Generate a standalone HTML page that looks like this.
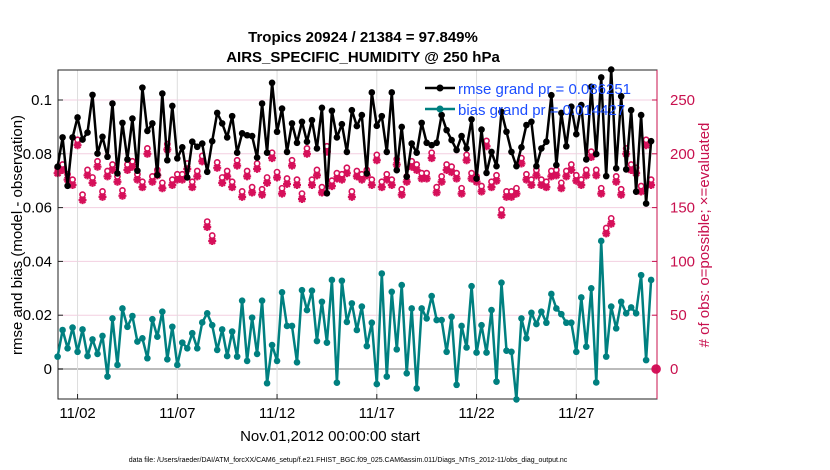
<!DOCTYPE html>
<html><head><meta charset="utf-8">
<style>
body{margin:0;background:#fff;}
svg{display:block;font-family:"Liberation Sans",sans-serif;}
</style></head>
<body>
<svg id="chart" width="830" height="470" viewBox="0 0 830 470" xmlns="http://www.w3.org/2000/svg">
<g id="grid"></g>
<g id="series"></g>
<rect x="58" y="70" width="599" height="329" fill="none" stroke="#222" stroke-width="1"/>
<line x1="657" y1="70" x2="657" y2="399" stroke="#c8104e" stroke-width="1"/>
<g id="axes"></g>
<text x="363" y="42" text-anchor="middle" font-size="15" font-weight="bold">Tropics 20924 / 21384 = 97.849%</text>
<text x="363" y="62" text-anchor="middle" font-size="15" font-weight="bold">AIRS_SPECIFIC_HUMIDITY @ 250 hPa</text>
<text transform="translate(22,235) rotate(-90)" text-anchor="middle" font-size="15">rmse and bias (model - observation)</text>
<text transform="translate(709,235) rotate(-90)" text-anchor="middle" font-size="15" fill="#c8104e"># of obs: o=possible; ×=evaluated</text>
<text x="330" y="441" text-anchor="middle" font-size="15">Nov.01,2012 00:00:00 start</text>
<text x="348" y="462" text-anchor="middle" font-size="7">data file: /Users/raeder/DAI/ATM_forcXX/CAM6_setup/f.e21.FHIST_BGC.f09_025.CAM6assim.011/Diags_NTrS_2012-11/obs_diag_output.nc</text>
<g id="series2"></g>
<g>
<line x1="425" y1="88" x2="455" y2="88" stroke="#000" stroke-width="2.5"/>
<circle cx="440" cy="88" r="3.5" fill="#000"/>
<text x="458" y="94" font-size="15" fill="#1a4cff">rmse grand pr = 0.086251</text>
<line x1="425" y1="109" x2="455" y2="109" stroke="#008080" stroke-width="2.5"/>
<circle cx="440" cy="109" r="3.5" fill="#008080"/>
<text x="458" y="115" font-size="15" fill="#1a4cff">bias grand pr = 0.014427</text>
</g>
</svg>
<script>
const rmse=[0.0752,0.0861,0.0681,0.0861,0.0935,0.0853,0.0879,0.1019,0.0801,0.0863,0.0789,0.0987,0.0727,0.0915,0.0779,0.0931,0.0737,0.1046,0.0885,0.0913,0.0721,0.1024,0.0776,0.0978,0.0783,0.0824,0.0712,0.0845,0.0826,0.0838,0.0733,
0.0847,0.0952,0.0913,0.0861,0.0940,0.0804,0.0876,0.0869,0.0866,0.0786,0.0987,0.0804,0.1064,0.0882,0.0968,0.0807,0.0913,0.0841,0.0919,0.0845,0.0925,0.0820,0.0971,0.0653,0.0960,0.0861,0.0910,0.0807,0.0962,0.0903,
0.0944,0.0727,0.1028,0.0904,0.0940,0.0807,0.1028,0.0739,0.0900,0.0715,0.0838,0.0804,0.0915,0.0841,0.0832,0.0841,0.0944,0.0888,0.0851,0.0814,0.0866,0.0820,0.0928,0.0708,0.0890,0.0729,0.0807,0.0754,0.0956,0.0882,
0.0807,0.0754,0.0824,0.0907,0.0919,0.0754,0.0820,0.0845,0.1018,0.0758,0.0952,0.0828,0.0975,0.0873,0.0981,0.0779,0.1049,0.0799,0.1084,0.0717,0.1113,0.0746,0.1014,0.0742,0.0962,0.0659,0.0944,0.0615,0.0847,null];
const bias=[0.0046,0.0145,0.0077,0.0154,0.0064,0.0147,0.0048,0.0110,0.0056,0.0123,-0.0028,0.0188,0.0015,0.0225,0.0157,0.0197,0.0102,0.0114,0.0040,0.0185,0.0120,0.0213,0.0036,0.0157,0.0015,0.0098,0.0077,0.0133,0.0077,0.0173,0.0207,
0.0163,0.0071,0.0147,0.0048,0.0139,0.0046,0.0254,0.0030,0.0191,0.0056,0.0254,-0.0053,0.0089,0.0030,0.0285,0.0160,0.0160,0.0025,0.0293,0.0219,0.0291,0.0104,0.0250,0.0098,0.0331,-0.0051,0.0328,0.0175,0.0244,0.0145,
0.0232,0.0085,0.0172,-0.0056,0.0355,-0.0028,0.0287,0.0073,0.0312,-0.0016,0.0225,-0.0072,0.0225,0.0188,0.0271,0.0182,0.0182,0.0064,0.0194,-0.0059,0.0160,0.0080,0.0308,0.0061,0.0163,0.0061,0.0219,-0.0047,0.0321,0.0068,
0.0064,-0.0113,0.0188,0.0114,0.0209,0.0167,0.0213,0.0172,0.0279,0.0225,0.0204,0.0172,0.0172,0.0064,0.0266,0.0083,0.0300,-0.0050,0.0476,0.0046,0.0232,0.0151,0.0250,0.0207,0.0229,0.0207,0.0349,0.0033,0.0331,null];
const evaluated=[182,185,176,171,208,157,180,173,188,160,179,185,174,161,185,188,176,169,200,174,180,168,204,171,176,176,186,169,179,193,132,
119,187,173,179,169,189,160,179,164,186,162,173,196,178,163,172,189,171,158,200,171,180,164,202,170,177,176,182,160,179,
176,180,171,194,169,176,171,190,162,174,188,185,177,177,196,164,174,185,183,177,163,194,177,174,165,207,169,175,143,160,
160,163,191,176,171,180,171,169,179,180,168,179,185,175,171,180,197,180,163,126,135,174,162,200,185,182,165,208,171,0];
const possible=evaluated.map(v=>v===0?0:v+5);
const xTickLabels=["11/02","11/07","11/12","11/17","11/22","11/27"];
const xTickDays=[1,6,11,16,21,26];
const yTicks=[0,0.02,0.04,0.06,0.08,0.1];
const yTickLabels=["0","0.02","0.04","0.06","0.08","0.1"];
const rTicks=[0,50,100,150,200,250];

const NS="http://www.w3.org/2000/svg";
const X0=57.6, DAY=19.95, L=58, R=657, T=70, B=399;
const xDay=d=>X0+d*DAY;
const xIdx=i=>xDay(i*0.25);
const yL=v=>369-v*2690;
const yR=c=>369-c*1.076;
function mk(tag,attrs,parent){const e=document.createElementNS(NS,tag);for(const k in attrs)e.setAttribute(k,attrs[k]);parent.appendChild(e);return e;}
const grid=document.getElementById('grid'),axes=document.getElementById('axes'),ser=document.getElementById('series'),ser2=document.getElementById('series2');

yTicks.forEach((v,i)=>{
  const y=yL(v);
  const g=mk('line',{x1:L,x2:R,y1:y,y2:y,stroke:v===0?'#bbb':'#f3cfe0','stroke-width':v===0?2:1},grid);
  
  
  const t=mk('line',{x1:L,x2:L+5,y1:y,y2:y,stroke:'#222'},axes);
  
  
  const lb=mk('text',{x:L-6,y:y+5,'text-anchor':'end','font-size':15},axes);
  lb.textContent=yTickLabels[i];
  
  
});
rTicks.forEach(c=>{
  const y=yR(c);
  const t=mk('line',{x1:R-5,x2:R,y1:y,y2:y,stroke:'#c8104e'},axes);
  
  
  const lb=mk('text',{x:R+13,y:y+5,'font-size':15,fill:'#c8104e'},axes);
  lb.textContent=String(c);
  
  
});
xTickDays.forEach((d,i)=>{
  const x=xDay(d);
  const g=mk('line',{x1:x,x2:x,y1:T,y2:B,stroke:'#ddd'},grid);
  
  
  const t=mk('line',{x1:x,x2:x,y1:B-5,y2:B,stroke:'#222'},axes);
  
  
  const lb=mk('text',{x:x,y:B+19,'text-anchor':'middle','font-size':15},axes);
  lb.textContent=xTickLabels[i];
  
  
});

// obs counts
const mag='#d6105a';
evaluated.forEach((c,i)=>{
  const x=xIdx(i),y=yR(c),s=4;
  const d=`M${x-s},${y}L${x+s},${y}M${x},${y-s}L${x},${y+s}M${x-s*0.72},${y-s*0.72}L${x+s*0.72},${y+s*0.72}M${x-s*0.72},${y+s*0.72}L${x+s*0.72},${y-s*0.72}`;
  const a=mk('path',{d:d,stroke:mag,'stroke-width':2.2,fill:'none'},ser);
  
  
});
possible.forEach((c,i)=>{
  const x=xIdx(i),y=yR(c);
  const o=mk('circle',{cx:x,cy:y,r:c===0?4:2.6,fill:c===0?mag:'#fff',stroke:mag,'stroke-width':1.6},ser);
  
  
});
function line(vals,color,name){
  let d='';vals.forEach((v,i)=>{if(v===null)return;d+=(d?'L':'M')+xIdx(i).toFixed(1)+','+yL(v).toFixed(1);});
  const p=mk('path',{d:d,fill:'none',stroke:color,'stroke-width':2.5,'stroke-linejoin':'round'},ser2);
  
  
  vals.forEach((v,i)=>{if(v===null)return;
    const c=mk('circle',{cx:xIdx(i),cy:yL(v),r:3.3,fill:color},ser2);
    
    
  });
}
line(rmse,'#000','rmse');
line(bias,'#008080','bias');
</script>
</body></html>
